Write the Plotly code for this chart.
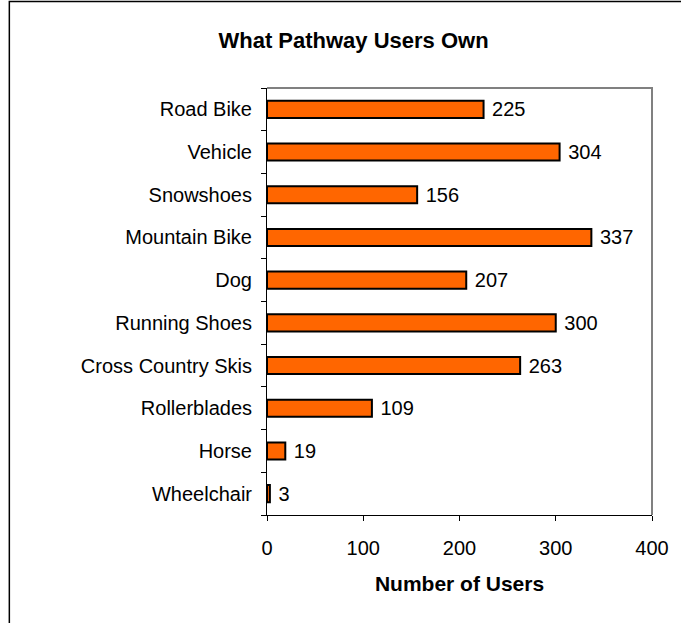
import plotly.graph_objects as go

# Survey data (bottom to top as drawn)
items = ['Wheelchair', 'Horse', 'Rollerblades', 'Cross Country Skis', 'Running Shoes',
         'Dog', 'Mountain Bike', 'Snowshoes', 'Vehicle', 'Road Bike']
users = [3, 19, 109, 263, 300, 207, 337, 156, 304, 225]
x_ticks = [0, 100, 200, 300, 400]

FONT = 'Arial, Liberation Sans, sans-serif'

fig = go.Figure()
fig.add_trace(go.Bar(
    y=items,
    x=users,
    orientation='h',
    marker=dict(color='#FF6600', line=dict(color='black', width=2)),
    texttemplate='\u00a0%{x}',
    textposition='outside',
    constraintext='none',
    textfont=dict(family=FONT, size=20, color='black'),
    cliponaxis=False,
    hoverinfo='x+y',
))

# plot area in pixels: x 267..654, y 88..515
L, R, T, B = 267, 27, 88, 108
W, H = 681, 623
pw, ph = W - L - R, H - T - B

fig.update_layout(
    width=W, height=H,
    margin=dict(l=L, r=R, t=T, b=B),
    paper_bgcolor='white',
    plot_bgcolor='white',
    showlegend=False,
    bargap=0.6,
    font=dict(family=FONT, size=20, color='black'),
    title=dict(
        text='<b>What Pathway Users Own</b>',
        font=dict(family=FONT, size=22, color='black'),
        x=(354 - L) / pw, xref='paper', xanchor='center',
        y=1 - 40 / H, yref='container', yanchor='middle',
    ),
    xaxis=dict(
        range=[0, 400],
        tickvals=x_ticks,
        showgrid=False,
        zeroline=False,
        showline=True, linecolor='black', linewidth=1,
        ticks='outside', ticklen=5, tickcolor='black',
        ticklabelstandoff=10,
        title=dict(text='<b>Number of Users</b>', font=dict(family=FONT, size=21), standoff=18),
    ),
    yaxis=dict(
        showgrid=False,
        showline=True, linecolor='black', linewidth=1,
        ticks='outside', ticklen=5, tickcolor='black',
        tickson='boundaries',
        ticklabelstandoff=10,
    ),
)

# gray frame on top and right of plot area
fig.add_shape(type='path', xref='paper', yref='paper',
              path='M 0,1 L 1,1 L 1,0', line=dict(color='#808080', width=2))

# outer chart border (left and top visible)
x0 = (8 - L) / pw
y1 = (H - B - 1.5) / ph
y0 = -(B + 10) / ph
fig.add_shape(type='path', xref='paper', yref='paper',
              path=f'M {x0},{y0} L {x0},{y1} L {1 + (R + 10) / pw},{y1}',
              line=dict(color='black', width=1.5))

fig.write_html('out.html', config={'displayModeBar': False},
               post_script="document.body.style.margin='0';document.body.style.overflow='hidden';")
